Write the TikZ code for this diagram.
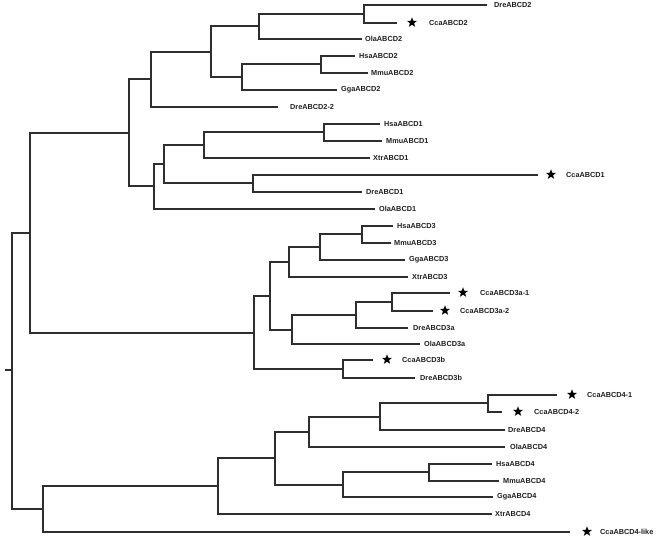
\documentclass[tikz,border=0pt]{standalone}
\usepackage{fontspec}
\setmainfont{Liberation Sans}
\usetikzlibrary{shapes.geometric}
\begin{document}
\begin{tikzpicture}[x=1pt,y=-1pt,
  br/.style={draw=black!82, line width=1.3pt},
  lab/.style={anchor=west, inner sep=0pt, font=\fontsize{7.3}{8}\selectfont\bfseries, text=black!88},
  starmark/.style={star, star points=5, star point ratio=2.4, fill=black, draw=none, inner sep=0pt, minimum size=10.5pt}]
\useasboundingbox (0,0) rectangle (658,539);
% internal nodes
\coordinate (r0) at (5,370);
\coordinate (n0) at (12,370);
\coordinate (n1) at (30,233);
\coordinate (n2) at (129,133);
\coordinate (c2) at (151,79);
\coordinate (c2a) at (211,52);
\coordinate (c2b) at (259,26);
\coordinate (c2d) at (364,14);
\coordinate (c2c) at (242,77);
\coordinate (c2e) at (321,64);
\coordinate (c1) at (154,186);
\coordinate (c1a) at (164,164);
\coordinate (c1b) at (204,145);
\coordinate (c1d) at (324,132);
\coordinate (c1c) at (253,183);
\coordinate (n3) at (254,333);
\coordinate (c3) at (270,296);
\coordinate (c3x) at (289,262);
\coordinate (c3y) at (320,247);
\coordinate (c3z) at (362,234);
\coordinate (c3a) at (292,330);
\coordinate (c3a1) at (356,315);
\coordinate (c3a2) at (392,302);
\coordinate (c3b) at (343,369);
\coordinate (n4) at (43,509);
\coordinate (c4) at (218,486);
\coordinate (c4a) at (275,458);
\coordinate (c4b) at (309,432);
\coordinate (c4d) at (380,417);
\coordinate (c4e) at (488,403);
\coordinate (c4c) at (343,485);
\coordinate (c4f) at (429,472);
% leaf tips
\coordinate (tDre2) at (487,5);
\coordinate (tCca2) at (397,23);
\coordinate (tOla2) at (362,39);
\coordinate (tHsa2) at (355,56);
\coordinate (tMmu2) at (368,73);
\coordinate (tGga2) at (337,90);
\coordinate (tDre22) at (278,107);
\coordinate (tHsa1) at (380,124);
\coordinate (tMmu1) at (382,141);
\coordinate (tXtr1) at (370,158);
\coordinate (tCca1) at (538,175);
\coordinate (tDre1) at (362,192);
\coordinate (tOla1) at (375,209);
\coordinate (tHsa3) at (393,226);
\coordinate (tMmu3) at (391,243);
\coordinate (tGga3) at (405,260);
\coordinate (tXtr3) at (408,277);
\coordinate (tCca3a1) at (450,293);
\coordinate (tCca3a2) at (433,311);
\coordinate (tDre3a) at (408,328);
\coordinate (tOla3a) at (420,344);
\coordinate (tCca3b) at (373,360);
\coordinate (tDre3b) at (415,378);
\coordinate (tCca41) at (557,395);
\coordinate (tCca42) at (502,412);
\coordinate (tDre4) at (505,430);
\coordinate (tOla4) at (505,447);
\coordinate (tHsa4) at (492,464);
\coordinate (tMmu4) at (499,481);
\coordinate (tGga4) at (493,497);
\coordinate (tXtr4) at (492,514);
\coordinate (tCca4l) at (570,532);
% labels
\node[lab] (lDre2) at (494,5) {DreABCD2};
\node[lab] (lCca2) at (429,23) {CcaABCD2};
\node[lab] (lOla2) at (365,39) {OlaABCD2};
\node[lab] (lHsa2) at (359,56) {HsaABCD2};
\node[lab] (lMmu2) at (371,73) {MmuABCD2};
\node[lab] (lGga2) at (341,90) {GgaABCD2};
\node[lab] (lDre22) at (290,107) {DreABCD2-2};
\node[lab] (lHsa1) at (384,124) {HsaABCD1};
\node[lab] (lMmu1) at (386,141) {MmuABCD1};
\node[lab] (lXtr1) at (373,158) {XtrABCD1};
\node[lab] (lCca1) at (566,175) {CcaABCD1};
\node[lab] (lDre1) at (366,192) {DreABCD1};
\node[lab] (lOla1) at (379,209) {OlaABCD1};
\node[lab] (lHsa3) at (397,226) {HsaABCD3};
\node[lab] (lMmu3) at (394,243) {MmuABCD3};
\node[lab] (lGga3) at (409,260) {GgaABCD3};
\node[lab] (lXtr3) at (412,277) {XtrABCD3};
\node[lab] (lCca3a1) at (480,293) {CcaABCD3a-1};
\node[lab] (lCca3a2) at (460,311) {CcaABCD3a-2};
\node[lab] (lDre3a) at (413,328) {DreABCD3a};
\node[lab] (lOla3a) at (424,344) {OlaABCD3a};
\node[lab] (lCca3b) at (402,360) {CcaABCD3b};
\node[lab] (lDre3b) at (420,378) {DreABCD3b};
\node[lab] (lCca41) at (587,395) {CcaABCD4-1};
\node[lab] (lCca42) at (534,412) {CcaABCD4-2};
\node[lab] (lDre4) at (508,430) {DreABCD4};
\node[lab] (lOla4) at (510,447) {OlaABCD4};
\node[lab] (lHsa4) at (496,464) {HsaABCD4};
\node[lab] (lMmu4) at (503,481) {MmuABCD4};
\node[lab] (lGga4) at (497,497) {GgaABCD4};
\node[lab] (lXtr4) at (495,514) {XtrABCD4};
\node[lab] (lCca4l) at (600,532) {CcaABCD4-like};
% stars
\node[starmark] (sCca2) at (412,22.5) {};
\node[starmark] (sCca1) at (551,174.5) {};
\node[starmark] (sCca3a1) at (463,292.5) {};
\node[starmark] (sCca3a2) at (445,310.5) {};
\node[starmark] (sCca3b) at (387,359.5) {};
\node[starmark] (sCca41) at (572,394.5) {};
\node[starmark] (sCca42) at (518,411.5) {};
\node[starmark] (sCca4l) at (587,531.5) {};
% branches
\draw[br] (r0) -- (n0);
\draw[br] (n0) |- (n1); \draw[br] (n0) |- (n4);
\draw[br] (n1) |- (n2); \draw[br] (n1) |- (n3);
\draw[br] (n2) |- (c2); \draw[br] (n2) |- (c1);
\draw[br] (c2) |- (c2a); \draw[br] (c2) |- (tDre22);
\draw[br] (c2a) |- (c2b); \draw[br] (c2a) |- (c2c);
\draw[br] (c2b) |- (c2d); \draw[br] (c2b) |- (tOla2);
\draw[br] (c2d) |- (tDre2); \draw[br] (c2d) |- (tCca2);
\draw[br] (c2c) |- (c2e); \draw[br] (c2c) |- (tGga2);
\draw[br] (c2e) |- (tHsa2); \draw[br] (c2e) |- (tMmu2);
\draw[br] (c1) |- (c1a); \draw[br] (c1) |- (tOla1);
\draw[br] (c1a) |- (c1b); \draw[br] (c1a) |- (c1c);
\draw[br] (c1b) |- (c1d); \draw[br] (c1b) |- (tXtr1);
\draw[br] (c1d) |- (tHsa1); \draw[br] (c1d) |- (tMmu1);
\draw[br] (c1c) |- (tCca1); \draw[br] (c1c) |- (tDre1);
\draw[br] (n3) |- (c3); \draw[br] (n3) |- (c3b);
\draw[br] (c3) |- (c3x); \draw[br] (c3) |- (c3a);
\draw[br] (c3x) |- (c3y); \draw[br] (c3x) |- (tXtr3);
\draw[br] (c3y) |- (c3z); \draw[br] (c3y) |- (tGga3);
\draw[br] (c3z) |- (tHsa3); \draw[br] (c3z) |- (tMmu3);
\draw[br] (c3a) |- (c3a1); \draw[br] (c3a) |- (tOla3a);
\draw[br] (c3a1) |- (c3a2); \draw[br] (c3a1) |- (tDre3a);
\draw[br] (c3a2) |- (tCca3a1); \draw[br] (c3a2) |- (tCca3a2);
\draw[br] (c3b) |- (tCca3b); \draw[br] (c3b) |- (tDre3b);
\draw[br] (n4) |- (c4); \draw[br] (n4) |- (tCca4l);
\draw[br] (c4) |- (c4a); \draw[br] (c4) |- (tXtr4);
\draw[br] (c4a) |- (c4b); \draw[br] (c4a) |- (c4c);
\draw[br] (c4b) |- (c4d); \draw[br] (c4b) |- (tOla4);
\draw[br] (c4d) |- (c4e); \draw[br] (c4d) |- (tDre4);
\draw[br] (c4e) |- (tCca41); \draw[br] (c4e) |- (tCca42);
\draw[br] (c4c) |- (c4f); \draw[br] (c4c) |- (tGga4);
\draw[br] (c4f) |- (tHsa4); \draw[br] (c4f) |- (tMmu4);
\end{tikzpicture}
\end{document}
